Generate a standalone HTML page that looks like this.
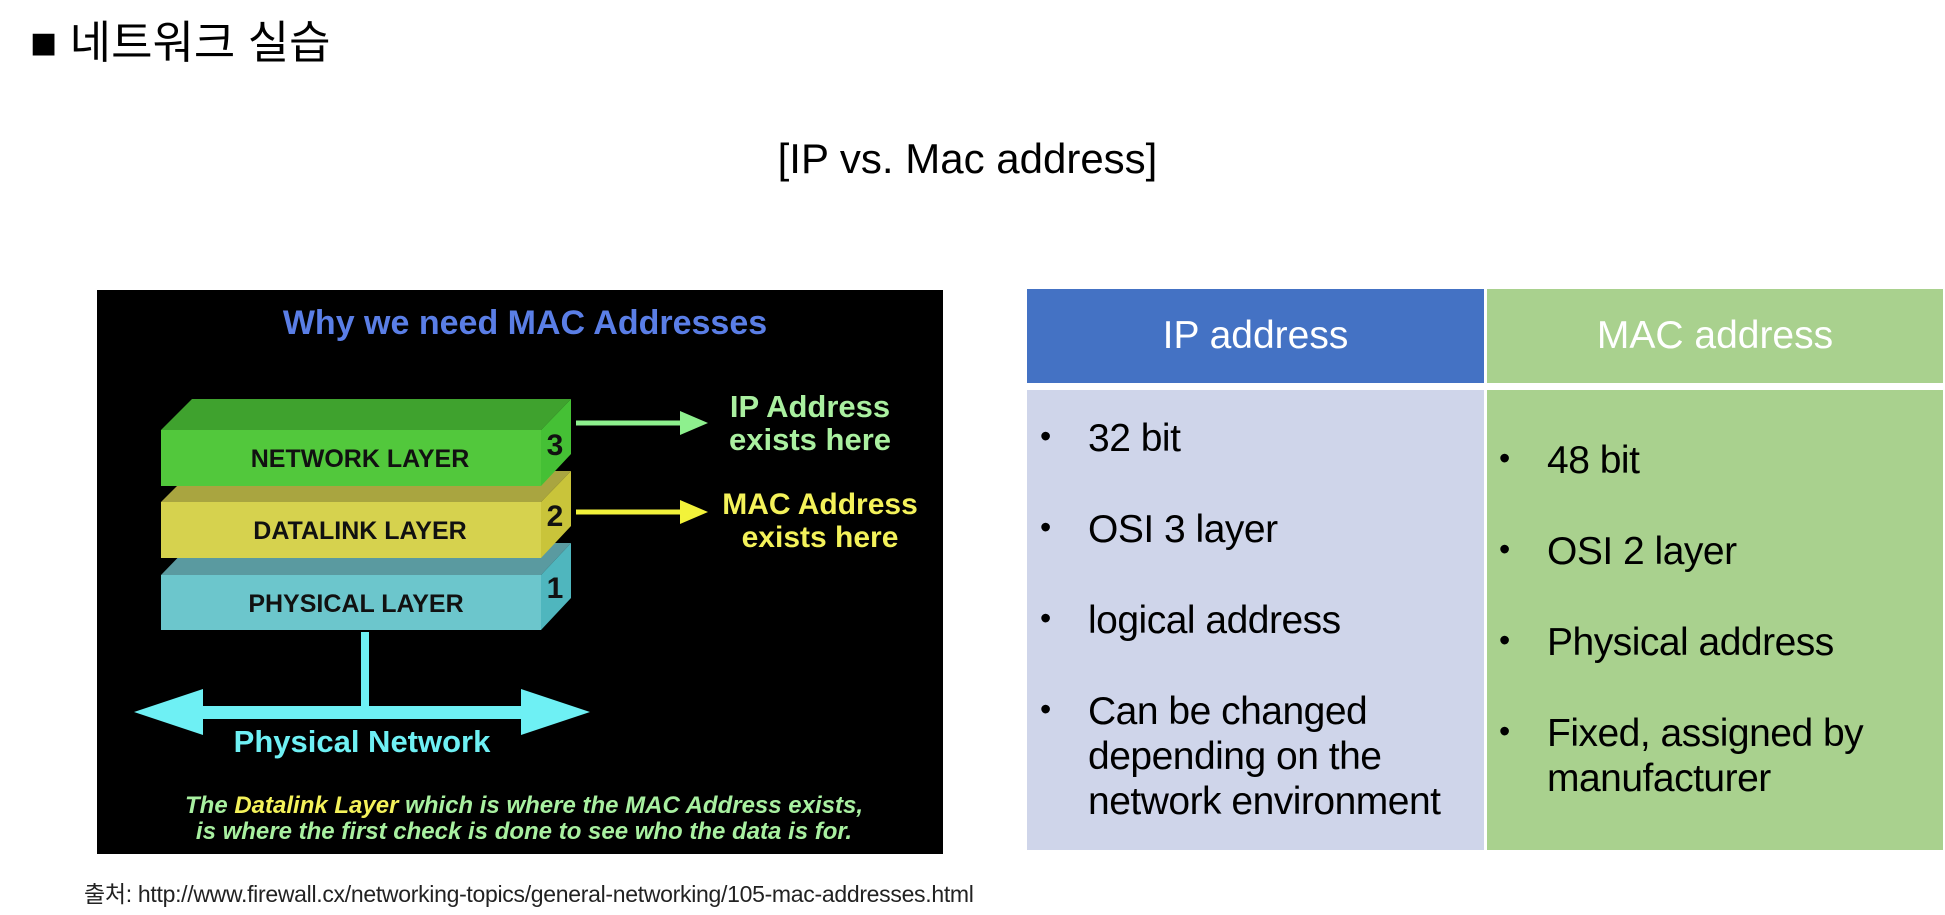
<!DOCTYPE html>
<html><head><meta charset="utf-8"><style>
body{margin:0;width:1945px;height:915px;background:#fff;position:relative;overflow:hidden;font-family:"Liberation Sans","Noto Sans CJK KR",sans-serif}
.a{position:absolute;white-space:nowrap}
.cell{position:absolute}
.t{position:absolute;font-size:39px;color:#000;line-height:45px;white-space:nowrap;letter-spacing:-0.5px}
.b{position:absolute;font-size:32px;color:#000;line-height:45px}
</style></head><body>
<div class="a" style="left:30px;top:16px;font-size:45px;line-height:54px">■ 네트워크 실습</div>
<div class="a" style="left:0;width:1935px;text-align:center;top:134px;font-size:42px;line-height:50px">[IP vs. Mac address]</div>

<svg class="a" style="left:97px;top:290px" width="846" height="564" viewBox="97 290 846 564">
<rect x="97" y="290" width="846" height="564" fill="#000"/>
<text x="525" y="334" text-anchor="middle" font-family="Liberation Sans" font-weight="bold" font-size="34" fill="#5a7ee6">Why we need MAC Addresses</text>
<polygon points="161,575 192,543 571,543 541,575" fill="#5a9aa0"/>
<polygon points="541,575 571,543 571,598 541,630" fill="#4fb6be"/>
<rect x="161" y="575" width="380" height="55" fill="#6cc6cc"/>
<polygon points="161,502 192,471 571,471 541,502" fill="#a9a540"/>
<polygon points="541,502 571,471 571,526 541,558" fill="#c9c43a"/>
<rect x="161" y="502" width="380" height="56" fill="#d6d24e"/>
<polygon points="161,430 192,399 571,399 541,430" fill="#3fa22e"/>
<polygon points="541,430 571,399 571,454 541,486" fill="#45c035"/>
<rect x="161" y="430" width="380" height="56" fill="#52c83c"/>
<g font-family="Liberation Sans" font-weight="bold" fill="#111">
<text x="360" y="467" text-anchor="middle" font-size="25">NETWORK LAYER</text>
<text x="360" y="539" text-anchor="middle" font-size="25">DATALINK LAYER</text>
<text x="356" y="612" text-anchor="middle" font-size="25">PHYSICAL LAYER</text>
<text x="555" y="455" text-anchor="middle" font-size="30">3</text>
<text x="555" y="526" text-anchor="middle" font-size="30">2</text>
<text x="555" y="598" text-anchor="middle" font-size="30">1</text>
</g>
<line x1="576" y1="423" x2="685" y2="423" stroke="#8ef08e" stroke-width="5"/>
<polygon points="680,411 708,423 680,435" fill="#8ef08e"/>
<line x1="576" y1="512" x2="685" y2="512" stroke="#f2f23a" stroke-width="5"/>
<polygon points="680,500 708,512 680,524" fill="#f2f23a"/>
<g font-family="Liberation Sans" font-weight="bold" font-size="31" text-anchor="middle">
<text x="810" y="417" fill="#aaf0a0">IP Address</text>
<text x="810" y="450" fill="#aaf0a0">exists here</text>
</g>
<g font-family="Liberation Sans" font-weight="bold" font-size="30" text-anchor="middle">
<text x="820" y="514" fill="#f4f25a">MAC Address</text>
<text x="820" y="547" fill="#f4f25a">exists here</text>
</g>
<rect x="361" y="632" width="8" height="80" fill="#6ef0f4"/>
<polygon points="134,712 203,689 203,706 521,706 521,689 590,712 521,735 521,719 203,719 203,735" fill="#6ef0f4"/>
<text x="362" y="752" text-anchor="middle" font-family="Liberation Sans" font-weight="bold" font-size="31" fill="#6ef0f4">Physical Network</text>
<g font-family="Liberation Sans" font-weight="bold" font-style="italic" font-size="24" text-anchor="middle" fill="#a8f0a0">
<text x="524" y="813">The <tspan fill="#f4f25a">Datalink Layer</tspan> which is where the MAC Address exists,</text>
<text x="524" y="839">is where the first check is done to see who the data is for.</text>
</g>
</svg>

<div class="cell" style="left:1027px;top:289px;width:457px;height:94px;background:#4472c4"></div>
<div class="cell" style="left:1487px;top:289px;width:456px;height:94px;background:#a9d18e"></div>
<div class="cell" style="left:1027px;top:390px;width:457px;height:460px;background:#cfd5ea"></div>
<div class="cell" style="left:1487px;top:390px;width:456px;height:460px;background:#a9d18e"></div>
<div class="a" style="left:1027px;width:457px;text-align:center;top:313px;font-size:39px;color:#fff;line-height:46px">IP address</div>
<div class="a" style="left:1487px;width:456px;text-align:center;top:313px;font-size:39px;color:#fff;line-height:46px">MAC address</div>

<div class="b" style="left:1040px;top:414px">•</div><div class="t" style="left:1088px;top:416px">32 bit</div>
<div class="b" style="left:1040px;top:505px">•</div><div class="t" style="left:1088px;top:507px">OSI 3 layer</div>
<div class="b" style="left:1040px;top:596px">•</div><div class="t" style="left:1088px;top:598px">logical address</div>
<div class="b" style="left:1040px;top:687px">•</div><div class="t" style="left:1088px;top:689px">Can be changed<br>depending on the<br>network environment</div>

<div class="b" style="left:1499px;top:436px">•</div><div class="t" style="left:1547px;top:438px">48 bit</div>
<div class="b" style="left:1499px;top:527px">•</div><div class="t" style="left:1547px;top:529px">OSI 2 layer</div>
<div class="b" style="left:1499px;top:618px">•</div><div class="t" style="left:1547px;top:620px">Physical address</div>
<div class="b" style="left:1499px;top:709px">•</div><div class="t" style="left:1547px;top:711px">Fixed, assigned by<br>manufacturer</div>

<div class="a" style="left:84px;top:880px;font-size:23px;line-height:28px;color:#222;letter-spacing:-0.3px">출처: http://www.firewall.cx/networking-topics/general-networking/105-mac-addresses.html</div>
</body></html>
